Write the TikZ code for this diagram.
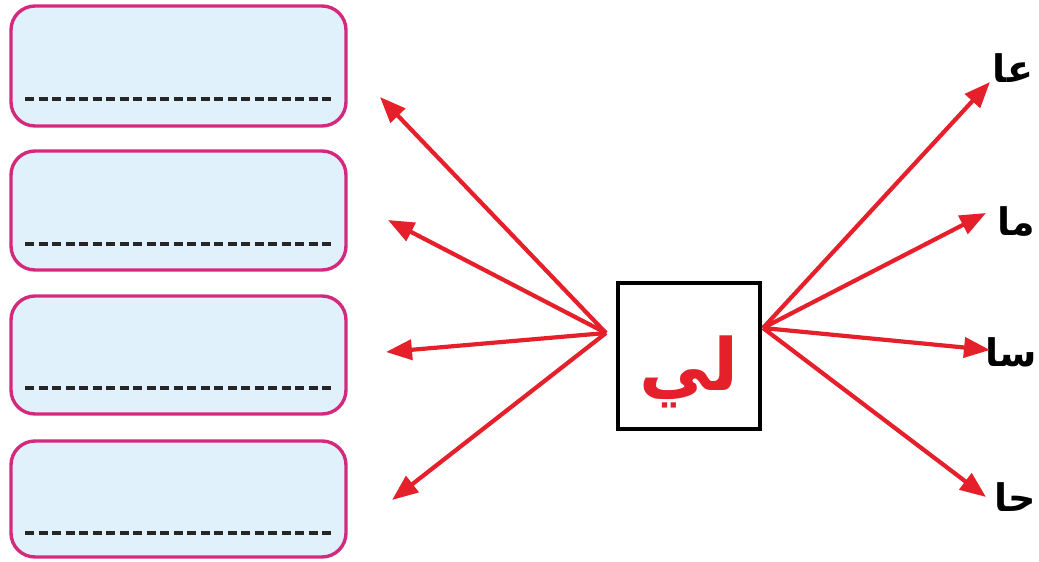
\documentclass[tikz,border=0pt]{standalone}
\usepackage{fontspec}
\usetikzlibrary{arrows.meta}
\TeXXeTstate=1
\newfontfamily\arabicfont[Script=Arabic]{DejaVu Sans}
\definecolor{boxfill}{HTML}{E0F1FC}
\definecolor{boxline}{HTML}{D42A7E}
\definecolor{arrred}{HTML}{E5202B}
\tikzset{
  ansbox/.style={draw=boxline, line width=3.4pt, fill=boxfill, rounded corners=24pt},
  dashline/.style={line width=4.5pt, draw=black!85, dash pattern=on 9pt off 4.5pt},
  arr/.style={draw=arrred, line width=4.2pt, -{Triangle[length=26pt,width=20pt]}},
  syl/.style={font=\arabicfont\bfseries\fontsize{38}{38}\selectfont, inner sep=0pt}
}
\begin{document}
\begin{tikzpicture}[x=1pt,y=-1pt]
\useasboundingbox (0,0) rectangle (1039,562);
% answer boxes
\foreach \t/\b/\d [count=\i] in {6/126/99, 151/270/244, 296/414/388, 441/557/533}{
  \path[ansbox] (11,\t) rectangle (346,\b);
  \draw[dashline] (25,\d) -- (332,\d);
}
% centre square
\node[draw=black, line width=3.6pt, minimum width=142pt, minimum height=146pt, inner sep=0pt] (c) at (689,356) {};
\node[text=arrred, font=\arabicfont\bfseries\fontsize{72}{72}\selectfont, inner sep=0pt] (cl) at (689,372) {\beginR لي\endR};
\coordinate (lo) at (606,333);
\coordinate (ro) at (763,328);
% left targets
\coordinate (l1) at (380,97);
\coordinate (l2) at (388,220);
\coordinate (l3) at (386,352);
\coordinate (l4) at (392,500);
\foreach \n in {l1,l2,l3,l4}{ \draw[arr] (lo) -- (\n); }
% right labels
\node[syl] (s1) at (1013,68) {\beginR عا\endR};
\node[syl] (s2) at (1016,222) {\beginR ما\endR};
\node[syl] (s3) at (1011,352) {\beginR سا\endR};
\node[syl] (s4) at (1015,497) {\beginR حا\endR};
\coordinate (r1) at (990,82);
\coordinate (r2) at (986,213);
\coordinate (r3) at (990,350);
\coordinate (r4) at (986,497);
\foreach \n in {r1,r2,r3,r4}{ \draw[arr] (ro) -- (\n); }
\end{tikzpicture}
\end{document}
